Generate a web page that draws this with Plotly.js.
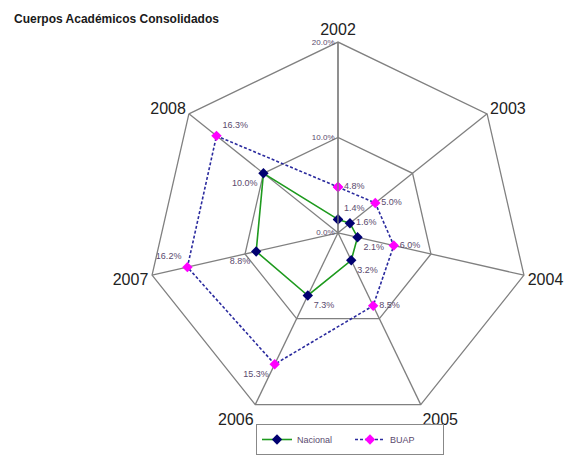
<!DOCTYPE html>
<html>
<head>
<meta charset="utf-8">
<script src="https://cdn.plot.ly/plotly-3.0.1.min.js"></script>
<style>html,body{margin:0;padding:0;background:#fff;}#chart{width:587px;height:455px;}</style>
</head>
<body>
<div id="chart"></div>
<script>
var years = ['2002','2003','2004','2005','2006','2007','2008'];
var nacional = [1.4, 1.6, 2.1, 3.2, 7.3, 8.8, 10.0];
var buap = [4.8, 5.0, 6.0, 8.5, 15.3, 16.2, 16.3];
var radialTicks = [0, 10, 20];

function closeArr(a){ return a.concat([a[0]]); }
function labels(a){ return a.map(function(v){ return v.toFixed(1) + '%'; }); }

var R = 195, cx = 338, cy = 238, W = 587, H = 455;
var labelColor = '#5a4a6e';

var traces = [
  {
    type: 'scatterpolar',
    name: 'Nacional',
    r: closeArr(nacional),
    theta: closeArr(years),
    mode: 'lines+markers+text',
    text: labels(nacional).concat(['']),
    textposition: ['top right','middle right','bottom right','bottom right','bottom right','bottom left','bottom left','top right'],
    textfont: {family: 'Liberation Sans, Arial, sans-serif', size: 9, color: labelColor},
    line: {color: '#1e9a1e', width: 1.6},
    marker: {symbol: 'diamond', size: 8, color: '#000070'},
    cliponaxis: false
  },
  {
    type: 'scatterpolar',
    name: 'BUAP',
    r: closeArr(buap),
    theta: closeArr(years),
    mode: 'lines+markers+text',
    text: labels(buap).concat(['']),
    textposition: ['middle right','middle right','middle right','middle right','bottom left','top left','top right','middle right'],
    textfont: {family: 'Liberation Sans, Arial, sans-serif', size: 9, color: labelColor},
    line: {color: '#2b2b9e', width: 1.6, dash: '3px,2px'},
    marker: {symbol: 'diamond', size: 8, color: '#ff00ff'},
    cliponaxis: false
  }
];

var layout = {
  width: W, height: H,
  margin: {l: 0, r: 0, t: 0, b: 0},
  paper_bgcolor: '#ffffff',
  showlegend: true,
  font: {family: 'Liberation Sans, Arial, sans-serif', color: '#222'},
  annotations: [{
    text: '<b>Cuerpos Académicos Consolidados</b>',
    xref: 'paper', yref: 'paper', x: 12/W, y: 1 - 10/H,
    xanchor: 'left', yanchor: 'top', showarrow: false,
    font: {family: 'Liberation Sans, Arial, sans-serif', size: 12, color: '#1a1a1a'}
  }],
  legend: {
    orientation: 'h',
    x: 350/W, xanchor: 'center',
    y: 1 - 434/H, yanchor: 'top',
    bordercolor: '#888', borderwidth: 1,
    font: {size: 9, color: labelColor},
    entrywidth: 48,
    bgcolor: 'rgba(255,255,255,0)'
  },
  polar: {
    domain: {x: [(cx - R)/W, (cx + R)/W], y: [1 - (cy + R)/H, 1 - (cy - R)/H]},
    gridshape: 'linear',
    bgcolor: '#fff',
    angularaxis: {
      type: 'category',
      categoryarray: years,
      direction: 'clockwise',
      rotation: 90,
      showline: true,
      linecolor: '#808080',
      linewidth: 1.3,
      gridcolor: '#808080',
      gridwidth: 1.3,
      ticks: '',
      tickfont: {size: 16, color: '#222'}
    },
    radialaxis: {
      range: [0, 20],
      tickvals: radialTicks,
      ticktext: radialTicks.map(function(v){ return v.toFixed(1) + '%'; }),
      angle: 90,
      tickangle: 90,
      side: 'counterclockwise',
      showline: true,
      linecolor: '#808080',
      linewidth: 1.3,
      gridcolor: '#808080',
      gridwidth: 1.3,
      ticks: '',
      tickfont: {size: 8, color: labelColor}
    }
  }
};

Plotly.newPlot('chart', traces, layout, {displayModeBar: false, staticPlot: true});
</script>
</body>
</html>
